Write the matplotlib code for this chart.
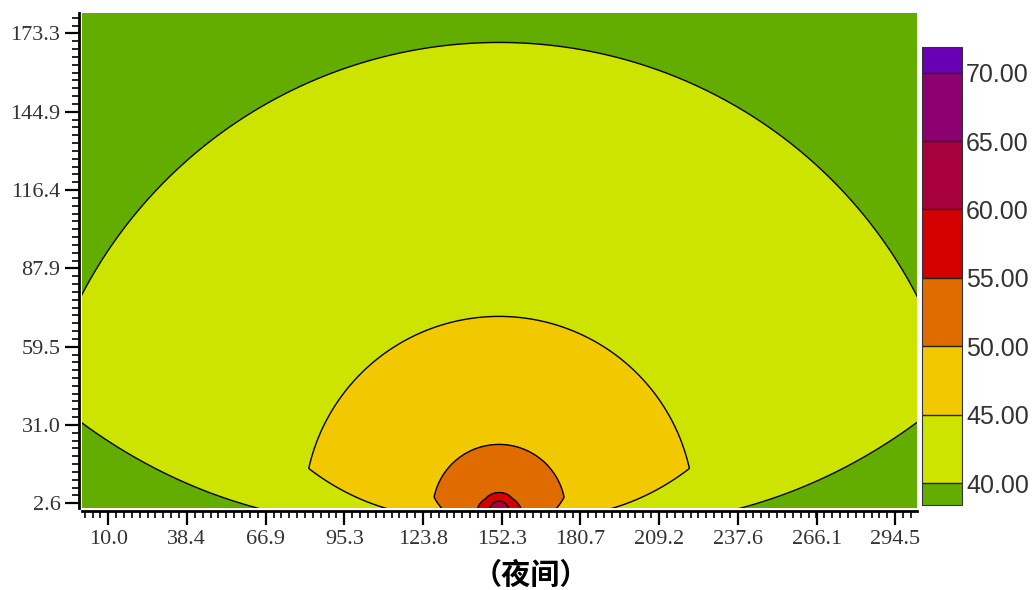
import numpy as np
import matplotlib
matplotlib.use('Agg')
import matplotlib.pyplot as plt

# noise contour boundaries (source near x=151.3, y=0)
levels = [40, 45, 50, 55, 60]
arc_radius = [170.0, 70.5, 24.0, 6.5, 3.4]      # radius of each boundary above the kink
ground_radius = [84.0, 38.0, 20.0, 8.1, 3.6]    # radius where the boundary meets the ground
kink_angle = [14.6, 12.5, 11.6, 40.0, 40.0]     # degrees above ground where arc turns into ground segment
src_x, src_y = 151.3, 0.0

x_ticks = [10.0, 38.4, 66.9, 95.3, 123.8, 152.3, 180.7, 209.2, 237.6, 266.1, 294.5]
y_ticks = [2.6, 31.0, 59.5, 87.9, 116.4, 144.9, 173.3]
cbar_ticks = [40, 45, 50, 55, 60, 65, 70]
fill_levels = [38.4, 40, 45, 50, 55, 60, 65, 70, 71.9]
colors = ['#62ad00', '#cde300', '#f2c800', '#e06c00', '#d40000',
          '#a8003a', '#8c0070', '#6a00b4']

# build the field from the boundary radii
xx, yy = np.meshgrid(np.linspace(0, 303, 1400), np.linspace(0, 182, 840))
r = np.maximum(np.hypot(xx - src_x, yy - src_y), 0.3)
theta = np.degrees(np.arctan2(yy - src_y, np.abs(xx - src_x)))
R = np.array([g + (a - g) * np.clip(theta / k, 0, 1)
              for a, g, k in zip(arc_radius, ground_radius, kink_angle)])
logR = np.log(R)
logr = np.log(r)

L = levels[0] - 5 * (logr - logR[0]) / (logR[0] - logR[1])
for i in range(len(levels) - 1):
    m = (r < R[i]) & (r >= R[i + 1])
    L[m] = levels[i] + 5 * (logR[i][m] - logr[m]) / (logR[i][m] - logR[i + 1][m])
m = r < R[-1]
L[m] = levels[-1] + 5 * (logR[-1][m] - logr[m]) / np.log(R[-2][m] / R[-1][m])
L = np.clip(L, 38.5, 63.5)

fig = plt.figure(figsize=(10.32, 5.9), dpi=100)
ax = fig.add_axes([82 / 1032, 1 - 508 / 590, 834.7 / 1032, 495 / 590])
cf = ax.contourf(xx, yy, L, levels=fill_levels, colors=colors)
ax.contour(xx, yy, L, levels=levels, colors='k', linewidths=1.0)
ax.set_xlim(0.5, 302.3)
ax.set_ylim(0.9, 180.7)

for s in ['top', 'right']:
    ax.spines[s].set_visible(False)
for s in ['left', 'bottom']:
    ax.spines[s].set_position(('outward', 2.5))
    ax.spines[s].set_linewidth(2)

ax.set_xticks(x_ticks)
ax.set_xticklabels([f'{v:.1f}' for v in x_ticks])
ax.set_yticks(y_ticks)
ax.set_yticklabels([f'{v:.1f}' for v in y_ticks])
ax.set_xticks(np.arange(10.0 - 2.845 * 3, 302.3, 2.845), minor=True)
ax.set_yticks(np.arange(2.6, 180.7, 2.845), minor=True)
ax.tick_params(which='major', direction='out', length=10, width=1.6, pad=3,
               labelsize=16, labelcolor='#333333')
ax.tick_params(which='minor', direction='out', length=5, width=1.2)
for lab in ax.get_xticklabels() + ax.get_yticklabels():
    lab.set_family('Liberation Serif')

cax = fig.add_axes([922 / 1032, 1 - 505 / 590, 40 / 1032, 458.3 / 590])
cb = fig.colorbar(cf, cax=cax, spacing='proportional', ticks=cbar_ticks)
cb.ax.set_yticklabels([f'{v:.2f}' for v in cbar_ticks])
cb.ax.tick_params(length=0, labelsize=18, pad=3, labelcolor='#333333')
for lab in cb.ax.get_yticklabels():
    lab.set_family('Liberation Sans')
for v in cbar_ticks:
    cb.ax.axhline(v, color='#222222', lw=1)
cb.outline.set_linewidth(0.8)
cb.outline.set_edgecolor('#333333')

fig.text(531 / 1032, 1 - 575 / 590, '（夜间）', ha='center', va='center',
         fontsize=21, family=['Noto Sans CJK SC', 'DejaVu Sans'], weight='bold')

fig.savefig('out.png', dpi=100)
